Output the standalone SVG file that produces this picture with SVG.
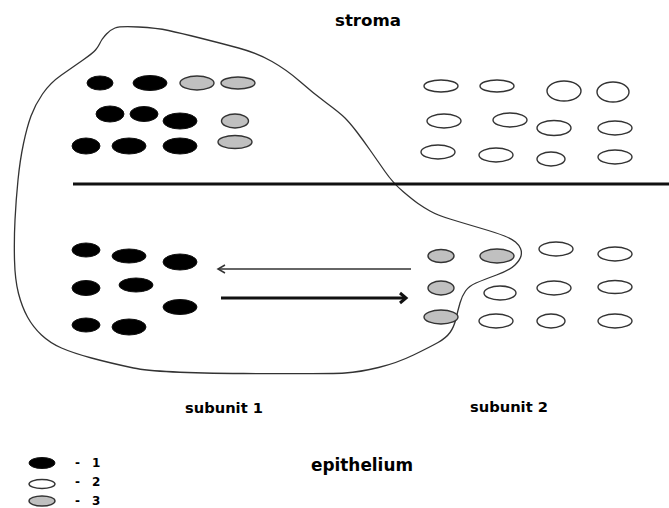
<svg xmlns="http://www.w3.org/2000/svg" width="669" height="508" viewBox="0 0 669 508">
<style>
  .blk { fill: #000; stroke: #111; stroke-width: 1; }
  .wht { fill: #fff; stroke: #333; stroke-width: 1.4; }
  .gry { fill: #c0c0c0; stroke: #333; stroke-width: 1.4; }
  .lbl { font-family: "DejaVu Sans", Verdana, sans-serif; font-weight: bold; fill: #000; }
  .leg { font-family: "DejaVu Sans", Verdana, sans-serif; font-size: 12px; font-weight: bold; fill: #000; }
  .outline { fill: none; stroke: #333; stroke-width: 1.3; stroke-linejoin: round; }
</style>
<defs>
  <marker id="headThin" markerUnits="userSpaceOnUse" markerWidth="14" markerHeight="14" viewBox="-10 -7 14 14" refX="0" refY="0" orient="auto">
    <path d="M-7,-4 L0,0 L-7,4" fill="none" stroke="#333" stroke-width="1.5"/>
  </marker>
  <marker id="headThick" markerUnits="userSpaceOnUse" markerWidth="16" markerHeight="16" viewBox="-12 -8 16 16" refX="0" refY="0" orient="auto">
    <path d="M-6,-5 L0,0 L-6,5" fill="none" stroke="#111" stroke-width="3"/>
  </marker>
</defs>
<rect width="669" height="508" fill="#fff"/>

<g id="tumor-outline">
  <path class="outline" d="M115,28 Q120,26 138.5,27 Q157,28 168.5,30.5 Q180,33 200,38 Q220,43 238.5,48 Q257,53 272,61.5 Q287,70 300,81.5 Q313,93 326.5,103 Q340,113 345,118 Q350,123 356.5,131.5 Q363,140 370,150 Q377,160 385,171.5 Q393,183 403,191.5 Q413,200 418,203.5 Q423,207 430,211 Q437,215 450,219 Q463,223 480,228 Q497,233 504.5,236 Q512,239 515.5,242 Q519,245 520.5,248.5 Q522,252 521,256 Q520,260 515,265 Q510,270 496.5,275 Q483,280 476,283 Q469,286 465.5,291 Q462,296 460,303 Q458,310 456,318.5 Q454,327 450,332.5 Q446,338 438,342.5 Q430,347 413.5,355 Q397,363 378.5,367.5 Q360,372 345,373 Q330,374 243.5,373.5 Q157,373 133.5,368 Q110,363 91.5,358 Q73,353 61.5,348 Q50,343 41.5,335 Q33,327 27.5,317 Q22,307 18.5,293.5 Q15,280 14.5,260 Q14,240 15,220 Q16,200 18,180 Q20,160 23.5,143.5 Q27,127 31,116 Q35,105 42.5,94 Q50,83 61.5,75 Q73,67 83,60 Q93,53 95.5,50 Q98,47 99.5,44 Q101,41 102,39.5 Q103,38 106.5,34 Q110,30 115,28 Z"/>
</g>

<g id="boundary">
  <line x1="73" y1="184" x2="669" y2="184" stroke="#111" stroke-width="3"/>
</g>

<g id="subunit1-stroma">
  <ellipse class="blk" cx="100" cy="83" rx="13" ry="7"/>
  <ellipse class="blk" cx="150" cy="83" rx="17" ry="7.5"/>
  <ellipse class="gry" cx="197" cy="83" rx="17" ry="7"/>
  <ellipse class="gry" cx="238" cy="83" rx="17" ry="6"/>
  <ellipse class="blk" cx="110" cy="114" rx="14" ry="8"/>
  <ellipse class="blk" cx="144" cy="114" rx="14" ry="7.5"/>
  <ellipse class="blk" cx="180" cy="121" rx="17" ry="8"/>
  <ellipse class="gry" cx="235" cy="121" rx="13.5" ry="7"/>
  <ellipse class="blk" cx="86" cy="146" rx="14" ry="8"/>
  <ellipse class="blk" cx="129" cy="146" rx="17" ry="8"/>
  <ellipse class="blk" cx="180" cy="146" rx="17" ry="8"/>
  <ellipse class="gry" cx="235" cy="142" rx="17" ry="6.5"/>
</g>

<g id="subunit2-stroma">
  <ellipse class="wht" cx="441" cy="86" rx="17" ry="6"/>
  <ellipse class="wht" cx="497" cy="86" rx="17" ry="6"/>
  <ellipse class="wht" cx="564" cy="91" rx="17" ry="10"/>
  <ellipse class="wht" cx="613" cy="92" rx="16" ry="10"/>
  <ellipse class="wht" cx="444" cy="121" rx="17" ry="7"/>
  <ellipse class="wht" cx="510" cy="120" rx="17" ry="7"/>
  <ellipse class="wht" cx="554" cy="128" rx="17" ry="7.5"/>
  <ellipse class="wht" cx="615" cy="128" rx="17" ry="7"/>
  <ellipse class="wht" cx="438" cy="152" rx="17" ry="7" stroke-width="2.2"/>
  <ellipse class="wht" cx="496" cy="155" rx="17" ry="7"/>
  <ellipse class="wht" cx="551" cy="159" rx="14" ry="7"/>
  <ellipse class="wht" cx="615" cy="157" rx="17" ry="7"/>
</g>

<g id="subunit1-epithelium">
  <ellipse class="blk" cx="86" cy="250" rx="14" ry="7"/>
  <ellipse class="blk" cx="129" cy="256" rx="17" ry="7"/>
  <ellipse class="blk" cx="180" cy="262" rx="17" ry="8"/>
  <ellipse class="blk" cx="86" cy="288" rx="14" ry="7.5"/>
  <ellipse class="blk" cx="136" cy="285" rx="17" ry="7"/>
  <ellipse class="blk" cx="180" cy="307" rx="17" ry="7.5"/>
  <ellipse class="blk" cx="86" cy="325" rx="14" ry="7"/>
  <ellipse class="blk" cx="129" cy="327" rx="17" ry="8"/>
</g>

<g id="subunit2-epithelium">
  <ellipse class="gry" cx="441" cy="256" rx="13" ry="6.5"/>
  <ellipse class="gry" cx="497" cy="256" rx="17" ry="7"/>
  <ellipse class="gry" cx="441" cy="288" rx="13" ry="7"/>
  <ellipse class="gry" cx="441" cy="317" rx="17" ry="7"/>
  <ellipse class="wht" cx="556" cy="249" rx="17" ry="7"/>
  <ellipse class="wht" cx="615" cy="254" rx="17" ry="7"/>
  <ellipse class="wht" cx="500" cy="293" rx="16" ry="7"/>
  <ellipse class="wht" cx="554" cy="288" rx="17" ry="7"/>
  <ellipse class="wht" cx="615" cy="287" rx="17" ry="6.5"/>
  <ellipse class="wht" cx="496" cy="321" rx="17" ry="7"/>
  <ellipse class="wht" cx="551" cy="321" rx="14" ry="7"/>
  <ellipse class="wht" cx="615" cy="321" rx="17" ry="7"/>
</g>

<g id="connectors">
  <line x1="411" y1="269" x2="218" y2="269" stroke="#333" stroke-width="1.5" marker-end="url(#headThin)"/>
  <line x1="221" y1="298" x2="406" y2="298" stroke="#111" stroke-width="3" marker-end="url(#headThick)"/>
</g>

<g id="labels">
  <text class="lbl" x="335" y="26" font-size="16" textLength="66" lengthAdjust="spacingAndGlyphs">stroma</text>
  <text class="lbl" x="185" y="413" font-size="14.5" textLength="78" lengthAdjust="spacingAndGlyphs">subunit 1</text>
  <text class="lbl" x="470" y="412" font-size="14.5" textLength="78" lengthAdjust="spacingAndGlyphs">subunit 2</text>
  <text class="lbl" x="311" y="471" font-size="17" textLength="102" lengthAdjust="spacingAndGlyphs">epithelium</text>
</g>

<g id="legend">
  <ellipse class="blk" cx="42" cy="463" rx="13" ry="5.5"/>
  <ellipse class="wht" cx="42" cy="484" rx="13" ry="4.5"/>
  <ellipse class="gry" cx="42" cy="501" rx="13" ry="5"/>
  <text class="leg" y="467"><tspan x="75">-</tspan><tspan x="92">1</tspan></text>
  <text class="leg" y="486"><tspan x="75">-</tspan><tspan x="92">2</tspan></text>
  <text class="leg" y="505"><tspan x="75">-</tspan><tspan x="92">3</tspan></text>
</g>
</svg>
